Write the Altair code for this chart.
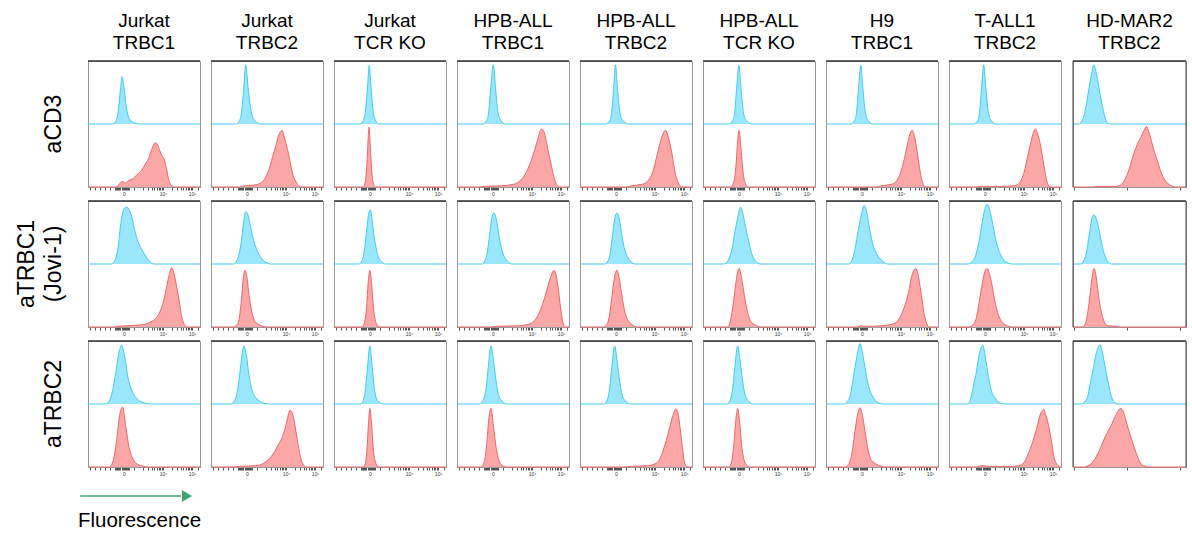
import altair as alt
import pandas as pd

# ---------------- labels ----------------
ROWS = ["aCD3", "aTRBC1|(Jovi-1)", "aTRBC2"]
COLS = ["Jurkat|TRBC1", "Jurkat|TRBC2", "Jurkat|TCR KO", "HPB-ALL|TRBC1",
        "HPB-ALL|TRBC2", "HPB-ALL|TCR KO", "H9|TRBC1", "T-ALL1|TRBC2", "HD-MAR2|TRBC2"]

# ---------------- histogram outlines: (position % of axis, relative count) ----------------
CD3_BLUE = [
    [(22,0),(25,0.05),(27,0.2),(29,0.55),(30.5,0.75),(32,0.6),(34,0.3),(36,0.12),(39,0.04),(43,0.01),(46,0)],
    [(22,0),(25,0.04),(27,0.15),(29,0.5),(31,0.94),(33,0.6),(35,0.3),(37,0.12),(40,0.04),(44,0)],
    [(23,0),(26,0.05),(28,0.2),(30,0.6),(31.5,0.93),(33,0.6),(35,0.2),(37,0.06),(40,0)],
    [(23,0),(26,0.04),(28,0.15),(30,0.55),(32.4,0.94),(34.5,0.55),(36.5,0.2),(39,0.06),(43,0)],
    [(23,0),(26,0.04),(28,0.15),(30,0.55),(31.6,0.94),(33.5,0.55),(35.5,0.2),(38,0.06),(43,0)],
    [(23,0),(26,0.04),(28,0.15),(30,0.55),(32,0.93),(34,0.55),(36,0.2),(38.5,0.06),(43,0)],
    [(22,0),(25,0.04),(27,0.15),(29,0.55),(31,0.93),(33,0.55),(35,0.2),(37.5,0.06),(42,0)],
    [(22,0),(25,0.04),(27,0.15),(29,0.55),(30.9,0.94),(33,0.55),(35,0.2),(37.5,0.06),(42,0)],
    [(5,0),(8,0.05),(10,0.15),(12,0.33),(14,0.55),(16.5,0.8),(18.5,0.94),(21,0.77),(24,0.47),(27,0.2),(30,0.03),(33,0)],
]
CD3_RED = [
    [(25,0),(28,0.05),(31,0.09),(33,0.06),(36,0.1),(40,0.13),(44,0.2),(48,0.27),(51,0.36),(54,0.45),(57,0.6),(60,0.7),(62,0.68),(64,0.58),(66,0.5),(68,0.44),(70,0.3),(72,0.12),(74,0.04),(77,0)],
    [(26,0),(30,0.02),(38,0.03),(44,0.06),(48,0.13),(51,0.24),(55,0.48),(58,0.66),(60,0.8),(62,0.88),(63.5,0.9),(65,0.82),(67,0.69),(69.5,0.5),(71.5,0.32),(74,0.15),(76,0.08),(79,0.01),(81,0)],
    [(26,0),(28,0.08),(29.5,0.4),(31.3,0.95),(33,0.45),(34.5,0.1),(37,0)],
    [(20,0),(24,0.01),(40,0.02),(50,0.04),(55,0.08),(59,0.15),(62,0.24),(65,0.36),(69,0.57),(72,0.75),(74,0.88),(75.6,0.92),(78,0.86),(80,0.7),(82,0.52),(85,0.28),(87,0.13),(89,0.04),(91,0)],
    [(42,0),(46,0.02),(55,0.04),(59,0.07),(62,0.13),(65,0.24),(69,0.52),(72,0.73),(74.5,0.86),(76.5,0.9),(79,0.78),(82,0.54),(85,0.22),(87,0.1),(88.5,0.04),(90,0)],
    [(25,0),(27.5,0.08),(29.5,0.35),(31,0.75),(32.3,0.9),(34,0.6),(36,0.2),(38,0.05),(40,0)],
    [(45,0),(50,0.02),(58,0.04),(62,0.08),(66,0.2),(70,0.45),(73,0.7),(75.5,0.87),(77,0.9),(79,0.8),(81.5,0.55),(84,0.25),(86,0.08),(88,0.01),(90,0)],
    [(25,0),(28,0.01),(45,0.01),(58,0.02),(62,0.05),(65.5,0.15),(68,0.3),(70,0.47),(73,0.7),(75.5,0.87),(77.3,0.92),(79,0.85),(81,0.72),(84,0.42),(87,0.12),(89,0.02),(91,0)],
    [(18,0),(22,0.01),(38,0.01),(42,0.03),(45,0.09),(48,0.2),(51,0.36),(54,0.54),(57,0.68),(60,0.79),(63,0.9),(65,0.96),(67,0.88),(69,0.76),(71,0.62),(73.5,0.48),(76,0.34),(78,0.23),(81,0.12),(83.6,0.06),(87,0.02),(90,0)],
]
JOVI_BLUE = [
    [(21,0),(23,0.03),(25,0.1),(27,0.28),(29,0.6),(31,0.82),(33,0.89),(35,0.9),(37,0.85),(39,0.76),(41.5,0.55),(44.5,0.36),(47.5,0.25),(50,0.17),(52,0.11),(54.5,0.05),(57,0.01),(59,0)],
    [(20,0),(23,0.05),(25,0.15),(27,0.35),(29,0.65),(31,0.83),(33,0.78),(35,0.62),(37,0.45),(39,0.32),(41.5,0.2),(44,0.12),(47,0.05),(50,0.02),(53,0)],
    [(22,0),(25,0.05),(27,0.2),(29,0.5),(31,0.8),(32.5,0.86),(34,0.7),(36,0.42),(38,0.22),(40,0.1),(43,0.03),(46,0)],
    [(22,0),(25,0.05),(27,0.18),(29,0.45),(31,0.72),(33,0.81),(35,0.72),(37,0.5),(39,0.3),(41,0.17),(43.5,0.08),(46,0.03),(49,0)],
    [(22,0),(25,0.05),(27,0.18),(29,0.45),(31,0.72),(33,0.81),(35,0.72),(37,0.5),(39,0.3),(41,0.17),(43.5,0.08),(46,0.03),(49,0)],
    [(18,0),(21,0.02),(23.5,0.1),(26,0.25),(28,0.45),(31,0.74),(33.6,0.9),(35,0.85),(37,0.68),(40,0.42),(43,0.2),(45,0.1),(47.5,0.04),(51,0)],
    [(20,0),(23,0.05),(26,0.25),(29,0.55),(32,0.82),(34,0.93),(36,0.85),(39,0.55),(42,0.3),(45,0.17),(48,0.09),(51,0.04),(55,0)],
    [(17,0),(20,0.03),(23,0.1),(25.5,0.25),(27.5,0.42),(30.5,0.75),(32.5,0.9),(34,0.95),(36,0.88),(37.7,0.75),(40,0.55),(42,0.37),(44,0.24),(46.5,0.13),(49,0.06),(52.5,0.02),(56,0)],
    [(7,0),(9,0.04),(11,0.12),(12.6,0.25),(14,0.42),(15.5,0.6),(17,0.74),(18.5,0.78),(20.5,0.72),(22.4,0.6),(24,0.45),(25.4,0.33),(27,0.2),(28.3,0.13),(30,0.06),(31.5,0.03),(34,0)],
]
JOVI_RED = [
    [(23,0),(26,0.01),(35,0.02),(45,0.03),(52,0.05),(56,0.08),(59.5,0.12),(63,0.2),(65.5,0.3),(68,0.45),(70,0.62),(72.5,0.83),(74.6,0.94),(76,0.9),(77.4,0.8),(79,0.65),(80.5,0.52),(83.3,0.2),(85,0.08),(86.5,0.03),(88.5,0)],
    [(20,0),(23,0.03),(25,0.12),(27,0.4),(29,0.8),(30.4,0.9),(32,0.8),(34,0.5),(36,0.28),(38,0.14),(41,0.06),(45,0.02),(50,0)],
    [(25,0),(27,0.06),(29,0.3),(30.5,0.7),(32,0.9),(33.5,0.7),(35,0.35),(37,0.1),(39,0.02),(41,0)],
    [(30,0),(35,0.01),(55,0.02),(65,0.05),(70,0.12),(74,0.25),(78,0.45),(82,0.7),(85,0.86),(86.6,0.9),(88.5,0.82),(90.5,0.6),(92.5,0.3),(94.5,0.08),(96,0.01),(97,0)],
    [(21,0),(24,0.04),(26,0.15),(28,0.4),(30,0.7),(32,0.88),(33,0.9),(35,0.78),(37,0.55),(39,0.33),(41,0.18),(44,0.08),(47,0.03),(51,0)],
    [(22,0),(24,0.06),(26.5,0.3),(29.5,0.72),(31,0.88),(32.4,0.93),(34,0.82),(35.4,0.67),(38.4,0.35),(41.4,0.14),(43.5,0.07),(46,0.04),(49,0.01),(52,0)],
    [(28,0),(31,0.02),(35,0.01),(50,0.02),(58,0.04),(63,0.08),(66,0.15),(69,0.27),(71.5,0.4),(73.5,0.53),(76.5,0.8),(78.5,0.9),(80.4,0.93),(82,0.85),(84,0.64),(86,0.4),(87,0.27),(88.5,0.14),(90,0.05),(92,0)],
    [(18,0),(21,0.03),(24,0.12),(27,0.4),(30,0.72),(32,0.88),(34,0.93),(36,0.85),(38,0.7),(40,0.5),(42,0.32),(44,0.2),(46.5,0.1),(49,0.05),(52,0.02),(56,0)],
    [(8,0),(10,0.02),(12,0.12),(13.9,0.34),(15.5,0.58),(16.8,0.77),(18.5,0.93),(20,0.85),(21.5,0.66),(23,0.45),(24.5,0.29),(26,0.17),(28.3,0.06),(31,0.02),(39,0.01),(42,0)],
]
TRBC2_BLUE = [
    [(16,0),(19.6,0.07),(22.5,0.26),(25.5,0.58),(27.8,0.83),(30,0.93),(32.8,0.75),(35.7,0.42),(38,0.27),(40,0.18),(43,0.1),(46,0.05),(50,0.02),(55,0)],
    [(18,0),(21,0.05),(24,0.25),(26.5,0.6),(28,0.82),(29.5,0.92),(31.5,0.78),(34,0.45),(37,0.2),(40,0.1),(44,0.04),(48,0.01),(52,0)],
    [(24,0),(26,0.05),(28,0.22),(30,0.6),(32,0.92),(34,0.6),(36,0.25),(38,0.08),(41,0.02),(44,0)],
    [(20,0),(23,0.05),(26,0.25),(28,0.6),(30.4,0.92),(32.5,0.7),(35,0.35),(37,0.15),(40,0.05),(44,0)],
    [(21,0),(24,0.05),(26.5,0.25),(28.5,0.6),(31,0.92),(33,0.7),(35.5,0.35),(38,0.12),(41,0.04),(45,0)],
    [(21,0),(24,0.05),(26.5,0.25),(28.5,0.6),(31,0.92),(33,0.7),(35.5,0.35),(38,0.12),(41,0.04),(45,0)],
    [(16,0),(19,0.04),(21.4,0.12),(24.4,0.42),(27.4,0.74),(30.4,0.96),(33.3,0.74),(36.3,0.42),(38.5,0.25),(40.8,0.15),(43.5,0.07),(46.7,0.02),(51,0)],
    [(17,0),(19,0.06),(21.5,0.26),(24.5,0.52),(27.3,0.82),(30.1,0.93),(31.5,0.85),(33,0.68),(36,0.36),(38,0.2),(40.5,0.12),(43,0.05),(46.4,0.01),(49,0)],
    [(7,0),(10,0.03),(13,0.12),(15,0.3),(17.5,0.52),(20.5,0.8),(24,0.94),(26,0.82),(28,0.63),(31,0.35),(34,0.12),(37,0.02),(39,0)],
]
TRBC2_RED = [
    [(19,0),(22.5,0.1),(25.5,0.42),(28.5,0.85),(30.9,0.95),(33.8,0.63),(36.7,0.31),(40.2,0.13),(43,0.06),(46,0.03),(50,0.01),(53,0)],
    [(20,0),(25,0.01),(40,0.02),(46,0.05),(50,0.1),(54,0.17),(57,0.25),(60,0.35),(63,0.45),(66,0.6),(68,0.75),(70.5,0.9),(72,0.88),(74,0.75),(76,0.55),(78,0.33),(80,0.15),(82,0.05),(85,0)],
    [(26,0),(28,0.06),(29.5,0.3),(31,0.75),(32,0.93),(33.5,0.7),(35,0.3),(37,0.08),(39,0.01),(41,0)],
    [(21,0),(24,0.06),(26.5,0.35),(28.5,0.78),(30.4,0.93),(32.5,0.65),(35,0.3),(37.5,0.1),(40,0.03),(44,0)],
    [(40,0),(45,0.01),(60,0.02),(67,0.05),(71,0.12),(74,0.25),(77,0.42),(80,0.62),(83,0.82),(85.7,0.92),(87.5,0.85),(89.5,0.6),(91.5,0.3),(93,0.1),(94.5,0.02),(96,0)],
    [(23,0),(25.5,0.08),(27.5,0.35),(29.5,0.78),(31,0.93),(32.5,0.75),(34.5,0.35),(36.5,0.12),(39,0.03),(42,0)],
    [(17,0),(20,0.04),(23,0.2),(25.9,0.57),(28,0.82),(30.4,0.94),(32.5,0.82),(34.8,0.57),(37,0.32),(39.3,0.15),(42,0.08),(45.2,0.04),(50,0.01),(55,0)],
    [(25,0),(28,0.02),(32,0.02),(35,0.01),(55,0.01),(62,0.02),(67,0.07),(70.5,0.2),(74.9,0.41),(79.3,0.68),(82,0.86),(84.6,0.91),(86,0.85),(88,0.73),(91,0.46),(94,0.14),(96,0.05),(98,0.01),(100,0)],
    [(10,0),(13,0.02),(16,0.05),(19,0.12),(22,0.21),(25,0.33),(28,0.46),(31,0.57),(34,0.67),(38.4,0.84),(42.2,0.93),(44.5,0.88),(47,0.73),(49,0.6),(51.5,0.46),(54,0.32),(56,0.22),(58,0.12),(60.4,0.05),(63,0.02),(67,0)],
]

# ---------------- axis ticks (position %) and tick labels ----------------
TICKS_A = [2, 6.5, 11, 15.5, 20, 24, 25, 26, 27, 28, 29, 30, 31, 32, 33, 34, 35, 36, 37,
           41, 48.8, 53.4, 56.7, 59.2, 61.2, 63, 64.5, 65.8, 67,
           74.8, 79.3, 82.7, 85.1, 87.2, 88.9, 90.4, 91.8, 93, 98]
LABELS_A = {32: "0", 67: "10⁴", 93: "10⁵"}
TICKS_B = [0.5, 1.5, 2.5, 3.5, 4.5, 7.4, 12, 16, 20, 25.7,
           33.2, 37.5, 40.6, 43.0, 45.0, 46.7, 48.1, 49.4, 50.8,
           58.3, 62.6, 65.7, 68.1, 70.1, 71.8, 73.2, 74.5, 75.2,
           82.7, 87.0, 90.1, 92.5, 94.5, 96.2, 97.6, 98.9, 99.9]
LABELS_B = {7.4: "0", 25.7: "10²", 50.8: "10³", 75.2: "10⁴", 99.9: "10⁵"}

# arrow annotation (page px along the bottom strip) and its caption
ARROW_X = [80, 181, 187]
ARROW_TEXT = "Fluorescence"

FONT = "Liberation Sans"
BLUE_FILL, BLUE_LINE = "#9ae6fa", "#3fcdf3"
RED_FILL, RED_LINE = "#fba7a7", "#f26565"


def build(col_idx):
    recs = []
    for ri, (blues, reds) in enumerate([(CD3_BLUE, CD3_RED), (JOVI_BLUE, JOVI_RED), (TRBC2_BLUE, TRBC2_RED)]):
        for ci in col_idx:
            for series, knots, base in (("blue", blues[ci], 1.0), ("red", reds[ci], 0.0)):
                pts = list(knots)
                if pts[0][0] > 0:
                    pts = [(0, 0)] + pts
                if pts[-1][0] < 100:
                    pts = pts + [(100, 0)]
                for x, h in pts:
                    recs.append({"rowl": ROWS[ri], "coll": COLS[ci], "series": series,
                                 "x": x, "top": base + h, "base": base})
    return pd.DataFrame(recs)


def label_expr(d):
    expr = "''"
    for v, t in d.items():
        expr = f"datum.value == {v} ? '{t}' : " + expr
    return expr


def panel(ticks, labels, dark_sides=False):
    xaxis = alt.Axis(values=ticks, labelExpr=label_expr(labels), labelFontSize=5,
                     labelColor="#333", labelFont=FONT, tickSize=3, tickColor="#2a2a2a",
                     tickWidth=0.8, domainColor="#999", domainWidth=1, labelPadding=1,
                     labelOverlap=False, labelFlush=False, grid=False, title=None)
    xs = alt.X("x:Q", scale=alt.Scale(domain=[0, 100], nice=False, zero=False), axis=xaxis)
    ys = alt.Y("top:Q", scale=alt.Scale(domain=[0, 2], nice=False), axis=None, stack=None)
    fill = alt.Color("series:N", scale=alt.Scale(domain=["blue", "red"], range=[BLUE_FILL, RED_FILL]), legend=None)
    stroke = alt.Color("series:N", scale=alt.Scale(domain=["blue", "red"], range=[BLUE_LINE, RED_LINE]), legend=None)
    area = alt.Chart().mark_area(interpolate="monotone", opacity=1).encode(
        x=xs, y=ys, y2="base:Q", color=fill)
    line = alt.Chart().mark_line(interpolate="monotone", strokeWidth=1).encode(
        x=xs, y=ys, color=stroke)
    one = "datum.x == 0 && datum.series == 'blue'"
    top = alt.Chart().transform_filter(one).mark_rule(color="#333", strokeWidth=1.6).encode(y=alt.datum(2))
    layers = [area, line, top]
    if dark_sides:
        layers.append(alt.Chart().transform_filter(one).mark_rule(color="#444", strokeWidth=1).encode(x=alt.datum(0)))
        layers.append(alt.Chart().transform_filter(one).mark_rule(color="#444", strokeWidth=1).encode(x=alt.datum(100)))
    return alt.layer(*layers).resolve_scale(color="independent")


col_header = alt.Header(labelExpr="split(datum.value, '|')", labelFontSize=19, labelFont=FONT,
                        labelColor="#000", labelLineHeight=22, labelPadding=8)
row_header = alt.Header(labelExpr="split(datum.value, '|')", labelFontSize=23, labelFont=FONT,
                        labelColor="#000", labelLineHeight=27, labelAngle=-90, labelOrient="left",
                        labelAlign="center", labelBaseline="middle", labelPadding=11)

left = panel(TICKS_A, LABELS_A).properties(width=112, height=126).facet(
    row=alt.Row("rowl:N", sort=ROWS, title=None, header=row_header),
    column=alt.Column("coll:N", sort=COLS[:8], title=None, header=col_header),
    data=build(range(8)), spacing={"row": 14, "column": 11}, bounds="flush",
).resolve_axis(x="independent")

right = panel(TICKS_B, LABELS_B, dark_sides=True).properties(width=113, height=126).facet(
    row=alt.Row("rowl:N", sort=ROWS, title=None, header=alt.Header(labels=False)),
    column=alt.Column("coll:N", sort=COLS[8:], title=None, header=col_header),
    data=build([8]), spacing={"row": 14}, bounds="flush",
).resolve_axis(x="independent")

arrow_df = pd.DataFrame({"x": [ARROW_X[0]], "x2": [ARROW_X[1]], "tip": [ARROW_X[2]],
                         "y": [10], "ty": [35], "label": [ARROW_TEXT]})
ax = alt.Scale(domain=[88, 298], nice=False, zero=False)
ay = alt.Scale(domain=[0, 50], reverse=True, nice=False)
arrow_line = alt.Chart(arrow_df).mark_rule(color="#3aa874", strokeWidth=1.5).encode(
    x=alt.X("x:Q", scale=ax, axis=None), x2="x2:Q", y=alt.Y("y:Q", scale=ay, axis=None))
arrow_head = alt.Chart(arrow_df).mark_point(shape="triangle-right", filled=True, size=140,
                                            color="#3aa874", opacity=1).encode(
    x=alt.X("tip:Q", scale=ax, axis=None), y=alt.Y("y:Q", scale=ay, axis=None))
arrow_text = alt.Chart(arrow_df).mark_text(fontSize=20.5, font=FONT, color="#000").encode(
    x=alt.X("xm:Q", scale=ax, axis=None), y=alt.Y("ty:Q", scale=ay, axis=None), text="label:N"
).transform_calculate(xm="(datum.x + datum.tip) / 2 + 6")
arrow = alt.layer(arrow_line, arrow_head, arrow_text).properties(
    width=210, height=50, view=alt.ViewBackground(stroke="transparent"))

chart = alt.vconcat(
    alt.hconcat(left, right, spacing=6),
    arrow,
    spacing=8,
).properties(padding={"left": 16, "top": 12, "right": 0, "bottom": 0}).configure_view(
    stroke="#9a9a9a", strokeWidth=1
)

chart.save("out.html", embed_options={"renderer": "svg", "actions": False})
